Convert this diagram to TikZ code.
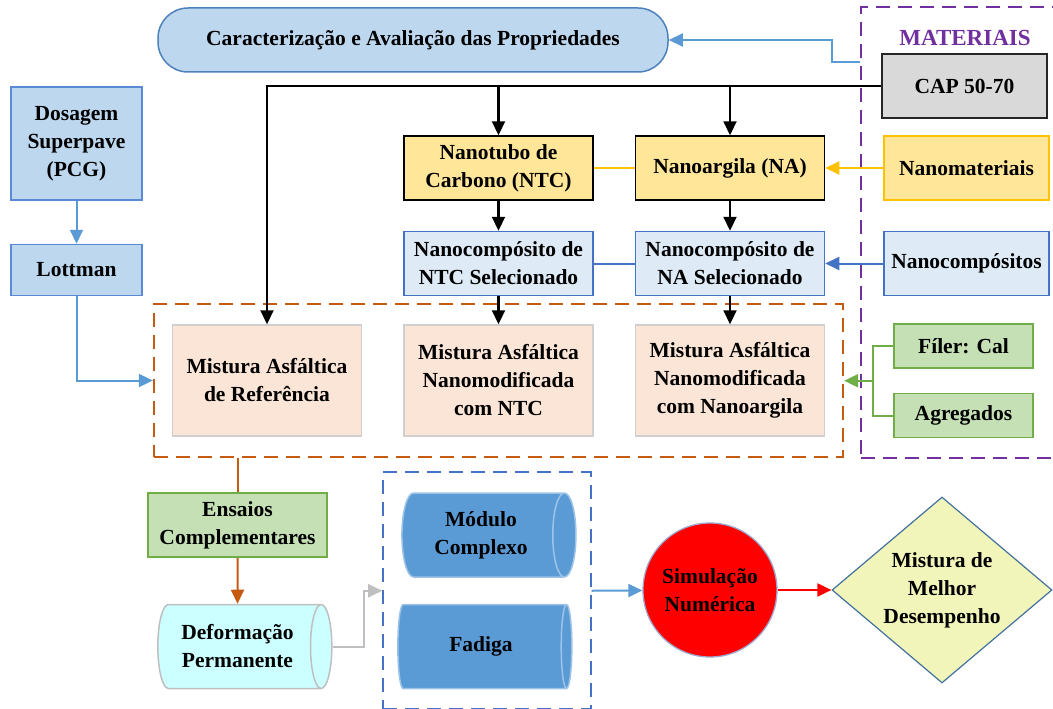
\documentclass[tikz,border=0pt]{standalone}
\usepackage{fontspec}
\setmainfont{Liberation Serif}
\usepackage{xcolor}
\usetikzlibrary{shapes.geometric, arrows.meta, positioning, calc, fit}

\definecolor{caracfill}{HTML}{BDD7EE}
\definecolor{caracline}{HTML}{4F81BD}
\definecolor{dosline}{HTML}{5A8AD6}
\definecolor{nanoyel}{HTML}{FFE699}
\definecolor{yelline}{HTML}{FFC000}
\definecolor{compfill}{HTML}{DEEBF7}
\definecolor{compline}{HTML}{4472C4}
\definecolor{capfill}{HTML}{D9D9D9}
\definecolor{mixfill}{HTML}{FBE5D6}
\definecolor{mixline}{HTML}{D0CECE}
\definecolor{mixdash}{HTML}{C55A11}
\definecolor{grnfill}{HTML}{C5E0B4}
\definecolor{grnline}{HTML}{70AD47}
\definecolor{matpurple}{HTML}{7030A0}
\definecolor{deffill}{HTML}{CCFFFF}
\definecolor{defline}{HTML}{BFBFBF}
\definecolor{modfill}{HTML}{5B9BD5}
\definecolor{modline}{HTML}{9DC3E6}
\definecolor{simline}{HTML}{9DA9CF}
\definecolor{bestfill}{HTML}{F2F5BA}
\definecolor{bestline}{HTML}{41719C}

\begin{document}
\begin{tikzpicture}[
  x=1pt, y=-1pt,
  font=\fontsize{21.5}{28}\selectfont\bfseries,
  align=center,
  tip/.style={-{Triangle[length=14pt, width=13pt]}},
  blk/.style={rectangle, draw, line width=1.5pt, minimum height=64pt, inner sep=2pt},
  carac/.style={blk, rounded corners=30pt, fill=caracfill, draw=caracline,
                minimum width=510pt},
  dosb/.style={blk, fill=caracfill, draw=dosline, minimum width=131pt},
  nano/.style={blk, fill=nanoyel, draw=black, minimum width=189pt},
  comp/.style={blk, fill=compfill, draw=compline, minimum width=189pt},
  side/.style={blk, minimum width=165pt},
  mix/.style={blk, fill=mixfill, draw=mixline, minimum width=189pt, minimum height=111pt},
  grn/.style={blk, fill=grnfill, draw=grnline, minimum width=139pt, minimum height=44pt},
  cyl/.style={cylinder, aspect=0.45, line width=1.5pt, draw,
              minimum width=84pt, minimum height=174pt, inner sep=2pt},
  simc/.style={circle, fill=red, draw=simline, line width=1.3pt,
               minimum size=134pt, inner sep=0pt},
  best/.style={diamond, aspect=1.18, fill=bestfill, draw=bestline, line width=1.2pt,
               minimum width=220pt, minimum height=186pt, inner sep=0pt},
  grp/.style={rectangle, line width=1.8pt, dash pattern=on 14pt off 8pt},
  karr/.style={tip, line width=2.2pt, draw=black},
  barr/.style={tip, line width=2pt, draw=modfill},
  carr/.style={tip, line width=2pt, draw=compline},
  yarr/.style={tip, line width=2pt, draw=yelline},
  garr/.style={tip, line width=2pt, draw=grnline},
  oarr/.style={tip, line width=2pt, draw=mixdash},
  gyarr/.style={tip, line width=2pt, draw=defline},
  rarr/.style={tip, line width=2pt, draw=red},
]
\useasboundingbox (0,0) rectangle (1053,709);

\node[carac]                      (carac)  at (413,40) {Caracterização e Avaliação das Propriedades};
\node[side, fill=capfill, draw=black!85] (cap) at (964.5,86) {CAP 50-70};
\node[text=matpurple, font=\fontsize{23}{28}\selectfont\bfseries] (mattit) at (965,38) {MATERIAIS};

\node[dosb, minimum height=113pt] (dos)    at (76.5,143.5) {Dosagem\\Superpave\\(PCG)};
\node[dosb, minimum height=51pt, below=43pt of dos] (lot) {Lottman};

\node[nano]                       (ntc)    at (498.5,168) {Nanotubo de\\Carbono (NTC)};
\node[nano, right=41pt of ntc]    (na)     {Nanoargila (NA)};
\node[side, fill=nanoyel, draw=yelline, right=58pt of na] (nmat) {Nanomateriais};

\node[comp, below=30pt of ntc]    (ntcsel) {Nanocompósito de\\NTC Selecionado};
\node[comp, below=30pt of na]     (nasel)  {Nanocompósito de\\NA Selecionado};
\node[side, fill=compfill, draw=compline, below=30pt of nmat] (ncomp) {Nanocompósitos};

\node[mix]                        (mntc)   at (498.5,380.5) {Mistura Asfáltica\\Nanomodificada\\com NTC};
\node[mix, left=41pt of mntc]     (ref)    {Mistura Asfáltica\\de Referência};
\node[mix, right=41pt of mntc]    (mna)    {Mistura Asfáltica\\Nanomodificada\\com Nanoargila};

\node[grn]                        (filer)  at (963.5,346) {Fíler: Cal};
\node[grn, below=24pt of filer]   (agreg)  {Agregados};

\node[grp, draw=mixdash, fit=(ref)(mna), inner xsep=18pt, inner ysep=20pt] (mixgrp) {};
\node[grp, draw=matpurple, fit=(mattit)(cap)(agreg), inner sep=20pt] (matgrp) {};

\node[grn, minimum width=179pt, minimum height=64pt] (ens) at (237.5,525) {Ensaios\\Complementares};
\node[cyl, fill=deffill, draw=defline, below=46pt of ens] (def) {Deformação\\Permanente};

\node[cyl, fill=modfill, draw=modline] (mod) at (481,535) {Módulo\\Complexo};
\node[cyl, fill=modfill, draw=modline, below=26pt of mod] (fad) {Fadiga};
\node[grp, draw=compline, fit=(mod)(fad), inner xsep=14pt, inner ysep=20pt] (tests) {};

\node[simc]                       (sim)    at (710,590) {Simulação\\Numérica};
\node[best]                       (best)   at (942,590) {Mistura de\\Melhor\\Desempenho};

\coordinate (mo) at ([yshift=-56pt]matgrp.north west);
\draw[barr] (mo) -- ++(-28,0) |- (carac.east);

\draw[karr] (cap.west) -| (ref.north);
\draw[karr] (ntc.north |- cap.west) -- (ntc.north);
\draw[karr] (na.north |- cap.west) -- (na.north);

\draw[barr] (dos) -- (lot);
\draw[barr] (lot.south) |- (mixgrp.west);

\draw[line width=2pt, yelline] (ntc) -- (na);
\draw[yarr] (nmat) -- (na);
\draw[line width=2pt, compline] (ntcsel) -- (nasel);
\draw[carr] (ncomp) -- (nasel);

\draw[karr] (ntc) -- (ntcsel);
\draw[karr] (na) -- (nasel);
\draw[karr] (ntcsel) -- (mntc);
\draw[karr] (nasel) -- (mna);

\coordinate (gj) at ([xshift=-20pt]$(filer.west)!.5!(agreg.west)$);
\draw[line width=2pt, grnline] (filer.west) -| (gj) |- (agreg.west);
\draw[garr] (gj) -- (gj -| mixgrp.east);

\draw[line width=2pt, mixdash] (ens.north |- mixgrp.south) -- (ens.north);
\draw[oarr] (ens) -- (def);
\draw[gyarr] (def.east) -- ++(31,0) |- (tests.west);
\draw[barr] (tests.east) -- (sim);
\draw[rarr] (sim) -- (best);

\end{tikzpicture}
\end{document}
